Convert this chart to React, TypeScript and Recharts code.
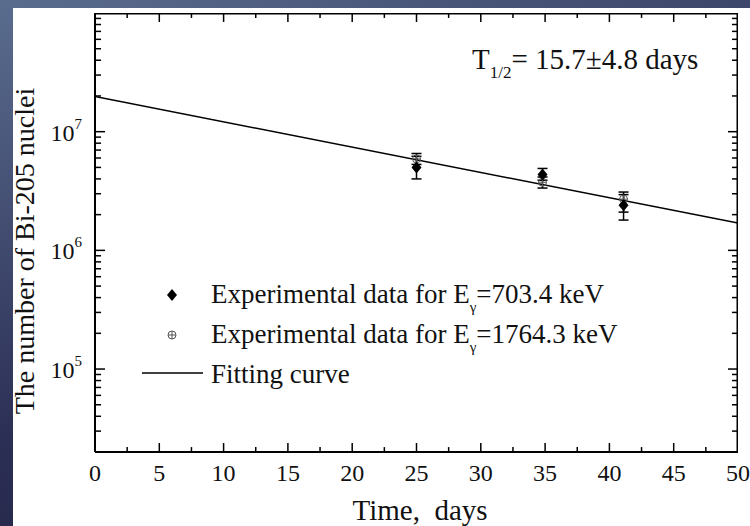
import React from 'react'
import { ComposedChart, Scatter, Line, XAxis, YAxis, ErrorBar, Customized } from 'recharts'

// E_gamma = 703.4 keV
const days703 = [25, 34.8, 41.1]
const counts703 = [5.0e6, 4.35e6, 2.4e6]
const low703 = [4.0e6, 3.9e6, 1.8e6]
const high703 = [6.2e6, 4.9e6, 3.1e6]

// E_gamma = 1764.3 keV
const days1764 = [25, 34.8, 41.1]
const counts1764 = [5.9e6, 3.75e6, 2.7e6]
const low1764 = [5.3e6, 3.35e6, 2.1e6]
const high1764 = [6.55e6, 4.15e6, 2.95e6]

// fitted exponential decay
const fitDays = [0, 50]
const fitCounts = [1.98e7, 1.7e6]

const xMajor = [0, 5, 10, 15, 20, 25, 30, 35, 40, 45, 50]
const xMinor = [2.5, 7.5, 12.5, 17.5, 22.5, 27.5, 32.5, 37.5, 42.5, 47.5]
const yMajor = [1e5, 1e6, 1e7, 1e8]
const yLabelled = [1e5, 1e6, 1e7]
const yMinor = [
  2e4, 3e4, 4e4, 5e4, 6e4, 7e4, 8e4, 9e4,
  2e5, 3e5, 4e5, 5e5, 6e5, 7e5, 8e5, 9e5,
  2e6, 3e6, 4e6, 5e6, 6e6, 7e6, 8e6, 9e6,
  2e7, 3e7, 4e7, 5e7, 6e7, 7e7, 8e7, 9e7,
]

const X_MIN = 0
const X_MAX = 50
const Y_MIN = 2e4
const Y_MAX = 1e8

const W = 750
const H = 526
const FONT = "'Liberation Serif', 'DejaVu Serif', serif"

const rows703 = days703.map((d, i) => ({
  x: d,
  y: counts703[i],
  err: [counts703[i] - low703[i], high703[i] - counts703[i]],
}))
const rows1764 = days1764.map((d, i) => ({
  x: d,
  y: counts1764[i],
  err: [counts1764[i] - low1764[i], high1764[i] - counts1764[i]],
}))
const fitRows = fitDays.map((d, i) => ({ x: d, y: fitCounts[i] }))

// inward tick segments in data units (x ticks: log factor, y ticks: days)
const X_TICK_BIG = 1.19
const X_TICK_SMALL = 1.1
const Y_TICK_BIG = 0.78
const Y_TICK_SMALL = 0.47

const tickSegments = [
  ...xMajor.map((v) => [{ x: v, y: Y_MIN }, { x: v, y: Y_MIN * X_TICK_BIG }]),
  ...xMinor.map((v) => [{ x: v, y: Y_MIN }, { x: v, y: Y_MIN * X_TICK_SMALL }]),
  ...xMajor.map((v) => [{ x: v, y: Y_MAX }, { x: v, y: Y_MAX / X_TICK_BIG }]),
  ...xMinor.map((v) => [{ x: v, y: Y_MAX }, { x: v, y: Y_MAX / X_TICK_SMALL }]),
  ...yMajor.map((v) => [{ x: X_MIN, y: v }, { x: X_MIN + Y_TICK_BIG, y: v }]),
  ...yMinor.map((v) => [{ x: X_MIN, y: v }, { x: X_MIN + Y_TICK_SMALL, y: v }]),
  ...yMajor.map((v) => [{ x: X_MAX, y: v }, { x: X_MAX - Y_TICK_BIG, y: v }]),
  ...yMinor.map((v) => [{ x: X_MAX, y: v }, { x: X_MAX - Y_TICK_SMALL, y: v }]),
]
const frameTop = [{ x: X_MIN, y: Y_MAX }, { x: X_MAX, y: Y_MAX }]
const frameRight = [{ x: X_MAX, y: Y_MIN }, { x: X_MAX, y: Y_MAX }]

const BottomLabel = ({ x, y, payload }: any) => (
  <text x={x} y={y + 29} textAnchor="middle" fontSize={24} fontFamily={FONT} fill="#111">
    {payload.value}
  </text>
)

const LeftLabel = ({ x, y, payload }: any) => {
  const exp = Math.round(Math.log10(payload.value))
  return (
    <text x={x - 13} y={y + 9} textAnchor="end" fontSize={24} fontFamily={FONT} fill="#111">
      10
      <tspan fontSize={15} dy={-12}>{exp}</tspan>
    </text>
  )
}

const Diamond = ({ cx, cy }: any) => (
  <polygon points={`${cx},${cy - 6} ${cx + 5},${cy} ${cx},${cy + 6} ${cx - 5},${cy}`} fill="#000" />
)

const CirclePlus = ({ cx, cy }: any) => (
  <g stroke="#555" strokeWidth={1} fill="none">
    <circle cx={cx} cy={cy} r={4} />
    <line x1={cx - 4} x2={cx + 4} y1={cy} y2={cy} />
    <line x1={cx} x2={cx} y1={cy - 4} y2={cy + 4} />
  </g>
)

const Overlay = () => (
  <g fontFamily={FONT} fill="#111">
    <text x={472} y={69} fontSize={29}>
      T<tspan fontSize={17} dy={9}>1/2</tspan>
      <tspan dy={-9}>= 15.7±4.8 days</tspan>
    </text>

    <Diamond cx={172} cy={295} />
    <text x={211} y={303} fontSize={27}>
      Experimental data for E<tspan fontSize={15} dy={9}>γ</tspan>
      <tspan dy={-9}>=703.4 keV</tspan>
    </text>

    <CirclePlus cx={172} cy={335} />
    <text x={211} y={343} fontSize={27}>
      Experimental data for E<tspan fontSize={15} dy={9}>γ</tspan>
      <tspan dy={-9}>=1764.3 keV</tspan>
    </text>

    <line x1={142} x2={203} y1={373} y2={373} stroke="#000" strokeWidth={1.5} />
    <text x={211} y={383} fontSize={27}>Fitting curve</text>

    <text x={420} y={520} fontSize={29} textAnchor="middle">{'Time,\u00a0 days'}</text>
    <text transform="translate(34,251) rotate(-90)" fontSize={28} textAnchor="middle">
      The number of Bi-205 nuclei
    </text>
  </g>
)

// left/bottom axis lines and tick labels
function Axes() {
  return (
    <ComposedChart width={W} height={H} margin={{ top: 13, right: 12, bottom: 14, left: 15 }}>
      <XAxis
        dataKey="x"
        type="number"
        domain={[X_MIN, X_MAX]}
        ticks={xMajor}
        interval={0}
        height={60}
        tickSize={0}
        tickMargin={0}
        tickLine={false}
        tick={<BottomLabel />}
        axisLine={{ stroke: '#000', strokeWidth: 2 }}
        allowDataOverflow
      />
      <YAxis
        dataKey="y"
        type="number"
        scale="log"
        domain={[Y_MIN, Y_MAX]}
        ticks={yLabelled}
        interval={0}
        width={80}
        tickSize={0}
        tickMargin={0}
        tickLine={false}
        tick={<LeftLabel />}
        axisLine={{ stroke: '#000', strokeWidth: 2 }}
        allowDataOverflow
      />
      <Line data={fitRows} dataKey="y" stroke="none" dot={false} activeDot={false} isAnimationActive={false} />
    </ComposedChart>
  )
}

// frame, ticks, data points, error bars, fit and annotations
function Data() {
  return (
    <ComposedChart width={W} height={H} margin={{ top: 13, right: 12, bottom: 74, left: 95 }}>
      <XAxis dataKey="x" type="number" domain={[X_MIN, X_MAX]} hide allowDataOverflow />
      <YAxis dataKey="y" type="number" scale="log" domain={[Y_MIN, Y_MAX]} hide allowDataOverflow />

      <Line data={frameTop} dataKey="y" stroke="#000" strokeWidth={3} dot={false} activeDot={false} isAnimationActive={false} />
      <Line data={frameRight} dataKey="y" stroke="#000" strokeWidth={3} dot={false} activeDot={false} isAnimationActive={false} />
      {tickSegments.map((seg, i) => (
        <Line
          key={i}
          data={seg}
          dataKey="y"
          stroke="#000"
          strokeWidth={1.5}
          dot={false}
          activeDot={false}
          isAnimationActive={false}
        />
      ))}

      <Scatter data={rows1764} dataKey="y" shape={<CirclePlus />} isAnimationActive={false}>
        <ErrorBar dataKey="err" direction="y" width={5} stroke="#000" strokeWidth={1.5} />
      </Scatter>
      <Scatter data={rows703} dataKey="y" shape={<Diamond />} isAnimationActive={false}>
        <ErrorBar dataKey="err" direction="y" width={5} stroke="#000" strokeWidth={1.5} />
      </Scatter>
      <Line
        data={fitRows}
        dataKey="y"
        type="linear"
        stroke="#000"
        strokeWidth={1.5}
        dot={false}
        activeDot={false}
        isAnimationActive={false}
      />
      <Customized component={<Overlay />} />
    </ComposedChart>
  )
}

export default function App() {
  return (
    <div
      style={{
        position: 'absolute',
        left: 0,
        top: 0,
        width: W,
        height: H,
        background: 'linear-gradient(160deg, #5a6d8f 0%, #2c2f55 55%, #1b1b36 100%)',
      }}
    >
      <div style={{ position: 'absolute', left: 13, top: 8, width: 737, height: 518, background: '#fff' }} />
      <div style={{ position: 'absolute', left: 0, top: 0 }}>
        <Axes />
      </div>
      <div style={{ position: 'absolute', left: 0, top: 0 }}>
        <Data />
      </div>
    </div>
  )
}
